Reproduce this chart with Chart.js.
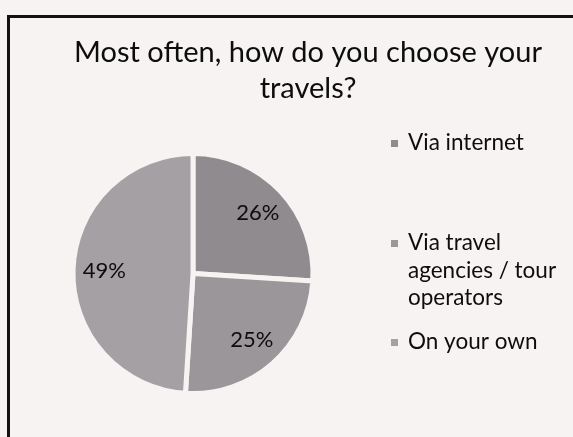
<!DOCTYPE html>
<html>
<head>
<meta charset="utf-8">
<script src="https://cdn.jsdelivr.net/npm/chart.js@4"></script>
<style>
  html, body { margin: 0; padding: 0; background: #f7f3f3; }
  #wrap { position: relative; width: 573px; height: 437px; overflow: hidden; }
  #frame { position: absolute; left: 7px; top: 15px; width: 700px; height: 600px;
           border-left: 3px solid #111; border-top: 3px solid #111; }
  canvas { position: absolute; left: 0; top: 0; }
</style>
</head>
<body>
<div id="wrap">
  <div id="frame"></div>
  <canvas id="chartType" width="573" height="437"></canvas>
</div>
<script>
const titleLines = ['Most often, how do you choose your', 'travels?'];
const categories = ['Via internet', 'Via travel agencies / tour operators', 'On your own'];
const legendLines = [['Via internet'], ['Via travel', 'agencies / tour', 'operators'], ['On your own']];
const shares = [26, 25, 49];
const sliceColors = ['#8f8b8e', '#9a9699', '#a4a0a3'];

document.addEventListener("DOMContentLoaded", function(){
    const chartType = document.getElementById("chartType");

    // titulo, etiquetas de porcentaje y leyenda dibujados a mano
    const extras = {
        id: 'extras',
        afterDraw(chart) {
            const ctx = chart.ctx;
            ctx.save();
            ctx.fillStyle = '#0d0d0d';
            ctx.textBaseline = 'middle';

            // titulo
            ctx.font = '29px Lato';
            ctx.textAlign = 'center';
            titleLines.forEach((t, i) => ctx.fillText(t, 308, 53 + i * 36));

            // porcentajes
            ctx.font = '22px Lato';
            const arcs = chart.getDatasetMeta(0).data;
            arcs.forEach((arc, i) => {
                const p = arc.getProps(['x', 'y', 'startAngle', 'endAngle', 'outerRadius'], true);
                const a = (p.startAngle + p.endAngle) / 2;
                const r = p.outerRadius * 0.74;
                ctx.fillText(shares[i] + '%', p.x + Math.cos(a) * r, p.y + Math.sin(a) * r);
            });

            // leyenda
            ctx.font = '22.5px Lato';
            ctx.textAlign = 'left';
            const tops = [143, 243, 342];
            legendLines.forEach((lines, i) => {
                ctx.fillStyle = sliceColors[i];
                ctx.fillRect(391, tops[i] - 3, 7, 7);
                ctx.fillStyle = '#0d0d0d';
                lines.forEach((l, j) => ctx.fillText(l, 408, tops[i] + j * 27.5));
            });
            ctx.restore();
        }
    };

    new Chart(chartType, {
        type: 'pie',
        data: {
          labels: categories,
          datasets: [{
            data: shares,
            backgroundColor: sliceColors,
            borderColor: '#f7f3f3',
            borderWidth: 5
          }]
        },
        options: {
            responsive: false,
            animation: false,
            radius: 120,
            plugins: {
                legend: { display: false },
                tooltip: { enabled: false }
            },
            layout: {
                padding: { left: 75, right: 262, top: 155, bottom: 45 }
            }
        },
        plugins: [extras]
      });
});
</script>
</body>
</html>
